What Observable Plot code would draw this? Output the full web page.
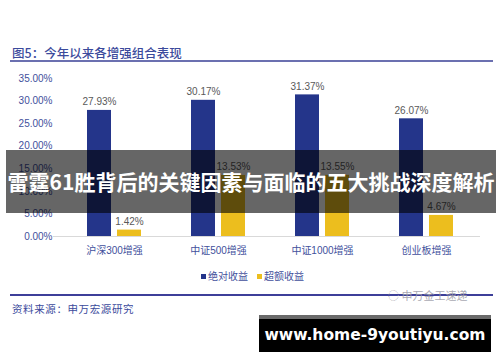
<!DOCTYPE html>
<html>
<head>
<meta charset="utf-8">
<script src="https://cdn.jsdelivr.net/npm/d3@7"></script>
<script src="https://cdn.jsdelivr.net/npm/@observablehq/plot@0.6"></script>
<style>
  html, body { margin: 0; padding: 0; background: #fff; }
  #page { position: relative; width: 500px; height: 362px; overflow: hidden; background: #fff;
          font-family: "Liberation Sans", "Noto Sans CJK SC", sans-serif; }
  .abs { position: absolute; }
  #title { left: 12px; top: 44px; font-family: "Noto Sans CJK SC", sans-serif; font-size: 12.5px; font-weight: 500;
           color: #3b4a9c; letter-spacing: 0px; line-height: 18px; white-space: nowrap; }
  #titleLine { left: 10px; top: 60px; width: 483px; height: 2px; background: #6b70b0; }
  #chart { left: 0; top: 60px; }
  #legend { left: 201px; top: 269px; font-size: 10px; line-height: 14px; color: #42509c; white-space: nowrap;
            font-family: "Noto Sans CJK SC", sans-serif; }
  #legend span.item { margin-right: 9px; }
  #legend span.sw { display: inline-block; width: 5px; height: 5px; margin-right: 2px; vertical-align: 1px; }
  #srcLine { left: 10px; top: 294px; width: 483px; height: 2px; background: #3d3f99; }
  #wm { left: 388px; top: 287px; font-size: 11px; line-height: 16px; color: rgba(160,160,170,0.9);
        font-family: "Noto Sans CJK SC", sans-serif; white-space: nowrap; }
  #source { left: 12px; top: 301px; font-family: "Noto Sans CJK SC", sans-serif; font-size: 10.5px; color: #3b4a9c;
            letter-spacing: 0.6px; line-height: 16px; white-space: nowrap; }
  #banner { left: 6px; top: 150px; width: 490px; height: 63px; background: rgba(0,0,0,0.6);
            color: #fff; font-family: "Noto Sans CJK SC", sans-serif; font-weight: 700; font-size: 21px;
            line-height: 63px; text-align: center; white-space: nowrap; letter-spacing: 0px; }
  #url { left: 259px; top: 315px; width: 232px; height: 37px; background: #000; border-top: 4px solid #6a6a6a;
         box-sizing: border-box; color: #fff; font-family: "DejaVu Sans", sans-serif; font-weight: 700;
         font-size: 15.5px; line-height: 33px; text-align: center; white-space: nowrap; }
</style>
</head>
<body>
<div id="page">
  <div id="title" class="abs"></div>
  <div id="titleLine" class="abs"></div>
  <div id="chart" class="abs"></div>
  <div id="legend" class="abs"></div>
  <div id="srcLine" class="abs"></div>
  <div id="wm" class="abs"></div>
  <div id="source" class="abs"></div>
  <div id="banner" class="abs"></div>
  <div id="url" class="abs"></div>
</div>
<script>
// ---- data ----
const titleText = "图5：今年以来各增强组合表现";
const categories = ["沪深300增强", "中证500增强", "中证1000增强", "创业板增强"];
const seriesNames = ["绝对收益", "超额收益"];
const absoluteReturn = [0.2793, 0.3017, 0.3137, 0.2607];
const excessReturn = [0.0142, 0.1353, 0.1355, 0.0467];
const yTicks = [0, 0.05, 0.10, 0.15, 0.20, 0.25, 0.30, 0.35];
const seriesColors = ["#24358a", "#ecbe1e"];
const sourceText = "资料来源：申万宏源研究";
const watermarkText = "申万金工速递";
const bannerText = "雷霆61胜背后的关键因素与面临的五大挑战深度解析";
const urlText = "www.home-9youtiyu.com";

// ---- build ----
const seriesValues = [absoluteReturn, excessReturn];
const rows = seriesNames.flatMap((s, si) =>
  categories.map((c, ci) => ({category: c, series: s, value: seriesValues[si][ci]})));
const pct = d => (d * 100).toFixed(2) + "%";
const offsets = [-15, 15];

const marks = [Plot.ruleY([0], {stroke: "#d9d9d9", strokeWidth: 1})];
seriesNames.forEach((s, si) => {
  const data = rows.filter(r => r.series === s);
  marks.push(Plot.barY(data, {x: "category", y: "value", fill: "series", dx: offsets[si], insetLeft: 40, insetRight: 40}));
  marks.push(Plot.text(data, {x: "category", y: "value", text: d => pct(d.value), dx: offsets[si], dy: -5,
    lineAnchor: "bottom", fill: "#595959", fontSize: 10}));
});

const chart = Plot.plot({
  width: 500,
  height: 200,
  marginLeft: 53,
  marginRight: 20,
  marginTop: 18,
  marginBottom: 24,
  style: {fontFamily: "'Liberation Sans', 'Noto Sans CJK SC', sans-serif", fontSize: "10px", color: "#42509c", background: "transparent", overflow: "visible"},
  x: {domain: categories, range: [62, 478], padding: 0, label: null, tickSize: 0, tickPadding: 10},
  y: {domain: [0, 0.35], ticks: yTicks, tickFormat: pct, label: null, tickSize: 0, tickPadding: 1},
  color: {domain: seriesNames, range: seriesColors},
  marks
});
document.getElementById("chart").appendChild(chart);

document.getElementById("title").textContent = titleText;
const legend = document.getElementById("legend");
seriesNames.forEach((s, i) => {
  const item = document.createElement("span");
  item.className = "item";
  const sw = document.createElement("span");
  sw.className = "sw";
  sw.style.background = seriesColors[i];
  item.appendChild(sw);
  item.appendChild(document.createTextNode(s));
  legend.appendChild(item);
});
document.getElementById("wm").textContent = "◌ " + watermarkText;
document.getElementById("source").textContent = sourceText;
document.getElementById("banner").textContent = bannerText;
document.getElementById("url").textContent = urlText;
</script>
</body>
</html>
